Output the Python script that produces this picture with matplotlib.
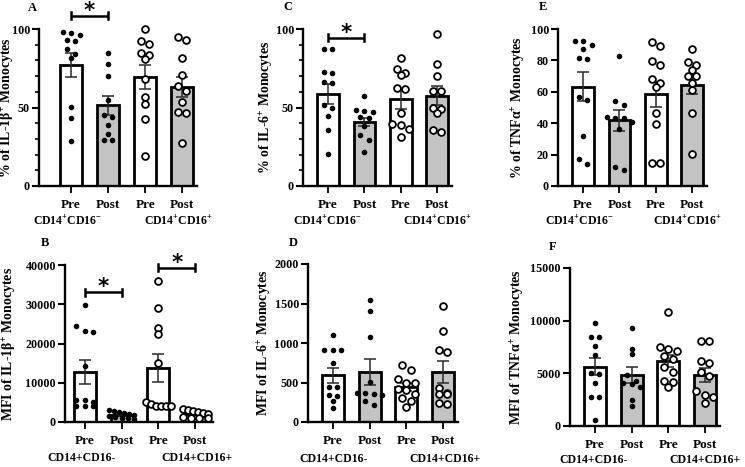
import numpy as np
import matplotlib
matplotlib.use("Agg")
import matplotlib.pyplot as plt
from matplotlib import transforms

plt.rcParams['font.family'] = ['Liberation Serif', 'DejaVu Serif']
plt.rcParams['font.weight'] = 'bold'
plt.rcParams['mathtext.fontset'] = 'custom'
plt.rcParams['mathtext.rm'] = 'Liberation Serif:bold'
plt.rcParams['mathtext.it'] = 'Liberation Serif:italic:bold'
plt.rcParams['mathtext.bf'] = 'Liberation Serif:bold'

conditions = ["Pre", "Post", "Pre", "Post"]

# ---------------- data ----------------
A_points = [
    [98.3, 97.6, 96.2, 93, 92.6, 87, 83.9, 81.7, 50.1, 43.3, 28.9],
    [85, 78, 70, 55, 45, 44, 39, 33, 29, 29],
    [100, 92.6, 90.4, 84.9, 83.7, 80.7, 68, 56.9, 52.2, 42.7, 19],
    [95.1, 93, 81.7, 70.7, 63.7, 60.5, 53.7, 47.3, 46.3, 27.2],
]
A_means = [77.1, 51.4, 69.6, 63.2]
A_sems = [7.5, 6.0, 7.5, 6.5]

C_points = [
    [87, 87, 72.2, 72.3, 66.4, 65.7, 51.5, 50, 44.5, 35.5, 20.6],
    [57.5, 48.5, 48, 47, 44, 43, 38.5, 32.5, 29, 21.5],
    [81.3, 74.3, 72.2, 70.7, 62.2, 61.8, 46.3, 39.3, 38.8, 36.1, 31],
    [96.6, 77.5, 70.3, 60.5, 60.5, 50, 49, 46.3, 35.7, 34.6],
]
C_means = [58.8, 40.5, 55.2, 57.6]
C_sems = [6.3, 2.5, 6.0, 6.2]

E_points = [
    [92.6, 92.4, 89.8, 87, 81.7, 80.7, 56.5, 54.8, 31.8, 17, 14],
    [83, 54.3, 51.6, 44, 43, 43, 41, 36, 12.3, 10.5],
    [91.9, 89.2, 79.6, 77, 68, 65.4, 62.8, 46.3, 39.3, 14.4, 14.4],
    [87, 79.2, 77, 73.9, 70, 70, 65.4, 61.1, 46.7, 20.4],
]
E_means = [63.3, 41.8, 58.5, 64.5]
E_sems = [9.3, 6.7, 8.0, 6.2]

B_points = [
    [29700, 24400, 23300, 23000, 14200, 5700, 5500, 5200, 4000, 4000, 4000],
    [3000, 2900, 2600, 2400, 2000, 1800, 1500, 1200, 1000, 900, 800],
    [36000, 29000, 24000, 22400, 15000, 5200, 4500, 4200, 4200, 4200, 4200],
    [3200, 3000, 2800, 2600, 2200, 2000, 1200, 1000, 1000, 900],
]
B_means = [12800, 1700, 13800, 2000]
B_sems = [3100, 250, 3600, 300]

D_points = [
    [1105, 910, 910, 910, 745, 445, 445, 340, 325, 265, 175],
    [1550, 1405, 1080, 510, 370, 370, 360, 340, 270, 215],
    [720, 660, 540, 500, 500, 420, 400, 360, 310, 270, 195],
    [1470, 1150, 910, 880, 430, 365, 360, 355, 240, 230],
]
D_means = [590, 635, 445, 635]
D_sems = [97, 165, 55, 137]

F_points = [
    [9800, 8450, 8450, 7550, 6750, 5000, 4900, 4100, 2750, 2750, 600],
    [9350, 7350, 6800, 4800, 4300, 4100, 4000, 3750, 2500, 1900],
    [10850, 7500, 7300, 7100, 6600, 6400, 5600, 5100, 4300, 4200, 3700],
    [8100, 8100, 6200, 6000, 5100, 4700, 3300, 2900, 2800, 2200],
]
F_means = [5630, 4850, 6170, 4850]
F_sems = [820, 750, 560, 680]

group_labels_top = ["CD14$^{+}$CD16$^{-}$", "CD14$^{+}$CD16$^{+}$"]
group_labels_bottom = ["CD14+CD16-", "CD14+CD16+"]

# ---------------- layout helpers ----------------
W, H = 745, 467
fig = plt.figure(figsize=(W / 100, H / 100), dpi=100)


def make_ax(l, t, r, b):
    return fig.add_axes([l / W, 1 - b / H, (r - l) / W, (b - t) / H])


def fx(px):
    return px / W


def fy(py):
    return 1 - py / H


bar_fc = ["white", "#c3c3c3", "white", "#c3c3c3"]
filled = [True, True, False, False]
BAR_W = 0.6


def swarm_offsets(ax, x, vals, spacing_px=8.5, thresh_px=5.5, max_w=25):
    vals = np.asarray(vals, float)
    order = np.argsort(-vals)
    ypx = ax.transData.transform(np.column_stack([np.full(len(vals), x), vals]))[:, 1]
    xs = np.zeros(len(vals))
    rows = []
    cur = []
    for i in order:
        if cur and abs(ypx[cur[0]] - ypx[i]) > thresh_px:
            rows.append(cur)
            cur = []
        cur.append(i)
    if cur:
        rows.append(cur)
    x0px = ax.transData.transform((x, 0))[0]
    for row in rows:
        n = len(row)
        sp = spacing_px if n < 2 else min(spacing_px, max_w / (n - 1))
        for k, i in enumerate(row):
            off = (k - (n - 1) / 2) * sp
            xs[i] = ax.transData.inverted().transform((x0px + off, ypx[i]))[0]
    return xs


def panel(box, xlim, ylim, yticks, minor, points, means, sems, ylabel,
          ylabel_x, letter, letter_xy, glabels, gl_pos):
    ax = make_ax(*box)
    ax.set_xlim(*xlim)
    ax.set_ylim(*ylim)
    x = np.arange(4)
    ax.bar(x, means, width=BAR_W, color=bar_fc, edgecolor="black",
           linewidth=2.0, zorder=2)
    ax.errorbar(x, means, yerr=sems, fmt="none", ecolor="#2a2a2a",
                elinewidth=1.1, capsize=4.2, capthick=1.1, zorder=3)
    for i in range(4):
        xs = swarm_offsets(ax, x[i], points[i])
        if filled[i]:
            ax.scatter(xs, points[i], s=16, color="black", zorder=4,
                       clip_on=False, linewidths=0)
        else:
            ax.scatter(xs, points[i], s=24, facecolor="white",
                       edgecolor="black", linewidths=1.3, zorder=4,
                       clip_on=False)
    for s in ["top", "right"]:
        ax.spines[s].set_visible(False)
    for s in ["left", "bottom"]:
        ax.spines[s].set_linewidth(1.7)
    ax.spines["left"].set_bounds(ylim[0], ylim[1])
    ax.set_yticks(yticks)
    if minor:
        ax.set_yticks(np.arange(ylim[0], ylim[1] + 1e-9, minor), minor=True)
        ax.tick_params(axis="y", which="minor", length=3, width=1.2)
    ax.set_xticks(x)
    ax.set_xticklabels(conditions)
    ax.tick_params(axis="y", which="major", length=5, width=1.5,
                   labelsize=8.7, pad=1.5)
    ax.tick_params(axis="x", length=5, width=1.3, labelsize=9.5, pad=4)
    for lab in ax.get_xticklabels() + ax.get_yticklabels():
        lab.set_fontweight("bold")
    fig.text(fx(ylabel_x), fy((box[1] + box[3]) / 2), ylabel, rotation=90,
             ha="center", va="center", fontsize=10, fontweight="bold")
    fig.text(fx(letter_xy[0]), fy(letter_xy[1]), letter, ha="center",
             va="center", fontsize=9, fontweight="bold")
    for g, (gx, gy) in zip(glabels, gl_pos):
        fig.text(fx(gx), fy(gy), g, ha="center", va="center", fontsize=8.5,
                 fontweight="bold")
    return ax


def bracket(ax, i0, i1, yv):
    p0 = ax.transData.transform((0, yv))[1]
    dy = ax.transData.inverted().transform((0, p0 + 3.5))[1] - yv
    ax.plot([i0, i1], [yv, yv], color="black", lw=1.8, clip_on=False,
            zorder=5, solid_capstyle="butt")
    for xi in (i0, i1):
        ax.plot([xi, xi], [yv - dy, yv + dy], color="black", lw=1.8,
                clip_on=False, zorder=5)
    tr = transforms.offset_copy(ax.transData, fig=fig, x=0, y=5,
                                units="dots")
    ax.text((i0 + i1) / 2, yv, "*", ha="center", va="center",
            fontsize=15.5, fontweight="bold", family="DejaVu Sans",
            clip_on=False, transform=tr)


# Panel A
axA = panel((39, 29, 197, 186), (-0.865, 3.4), (0, 100), [0, 50, 100], 10,
            A_points, A_means, A_sems, "% of IL-1β$^{+}$ Monocytes", 8,
            "A", (32, 8), group_labels_top, [(67, 221), (178, 221)])
bracket(axA, 0, 1, 108.3)

# Panel C
axC = panel((303, 29, 452, 186), (-0.69, 3.41), (0, 100), [0, 50, 100], 10,
            C_points, C_means, C_sems, "% of IL-6$^{+}$ Monocytes", 267,
            "C", (288, 7), group_labels_top, [(327, 221), (437, 221)])
bracket(axC, 0, 1, 94.5)

# Panel E
axE = panel((558, 29, 707, 186), (-0.69, 3.41), (0, 100),
            [0, 20, 40, 60, 80, 100], None,
            E_points, E_means, E_sems, "% of TNFα$^{+}$ Monocytes", 519,
            "E", (543, 7), group_labels_top, [(579, 221), (687, 221)])

# Panel B
axB = panel((65, 265, 213, 422), (-0.545, 3.49), (0, 40000),
            [0, 10000, 20000, 30000, 40000], None,
            B_points, B_means, B_sems, "MFI of IL-1β$^{+}$ Monocytes", 10,
            "B", (45, 243), group_labels_bottom, [(82, 458), (197, 458)])
bracket(axB, 0, 1, 33000)
bracket(axB, 2, 3, 39300)

# Panel D
axD = panel((308, 264, 458, 422), (-0.68, 3.41), (0, 2000),
            [0, 500, 1000, 1500, 2000], None,
            D_points, D_means, D_sems, "MFI of IL-6$^{+}$ Monocytes", 265,
            "D", (293, 243), group_labels_bottom, [(333, 459), (445, 459)])

# Panel F
axF = panel((570, 268, 720, 426), (-0.68, 3.41), (0, 15000),
            [0, 5000, 10000, 15000], None,
            F_points, F_means, F_sems, "MFI of TNFα$^{+}$ Monocytes", 518,
            "F", (553, 247), group_labels_bottom, [(593, 460), (705, 460)])

fig.savefig("out.png", dpi=100)
